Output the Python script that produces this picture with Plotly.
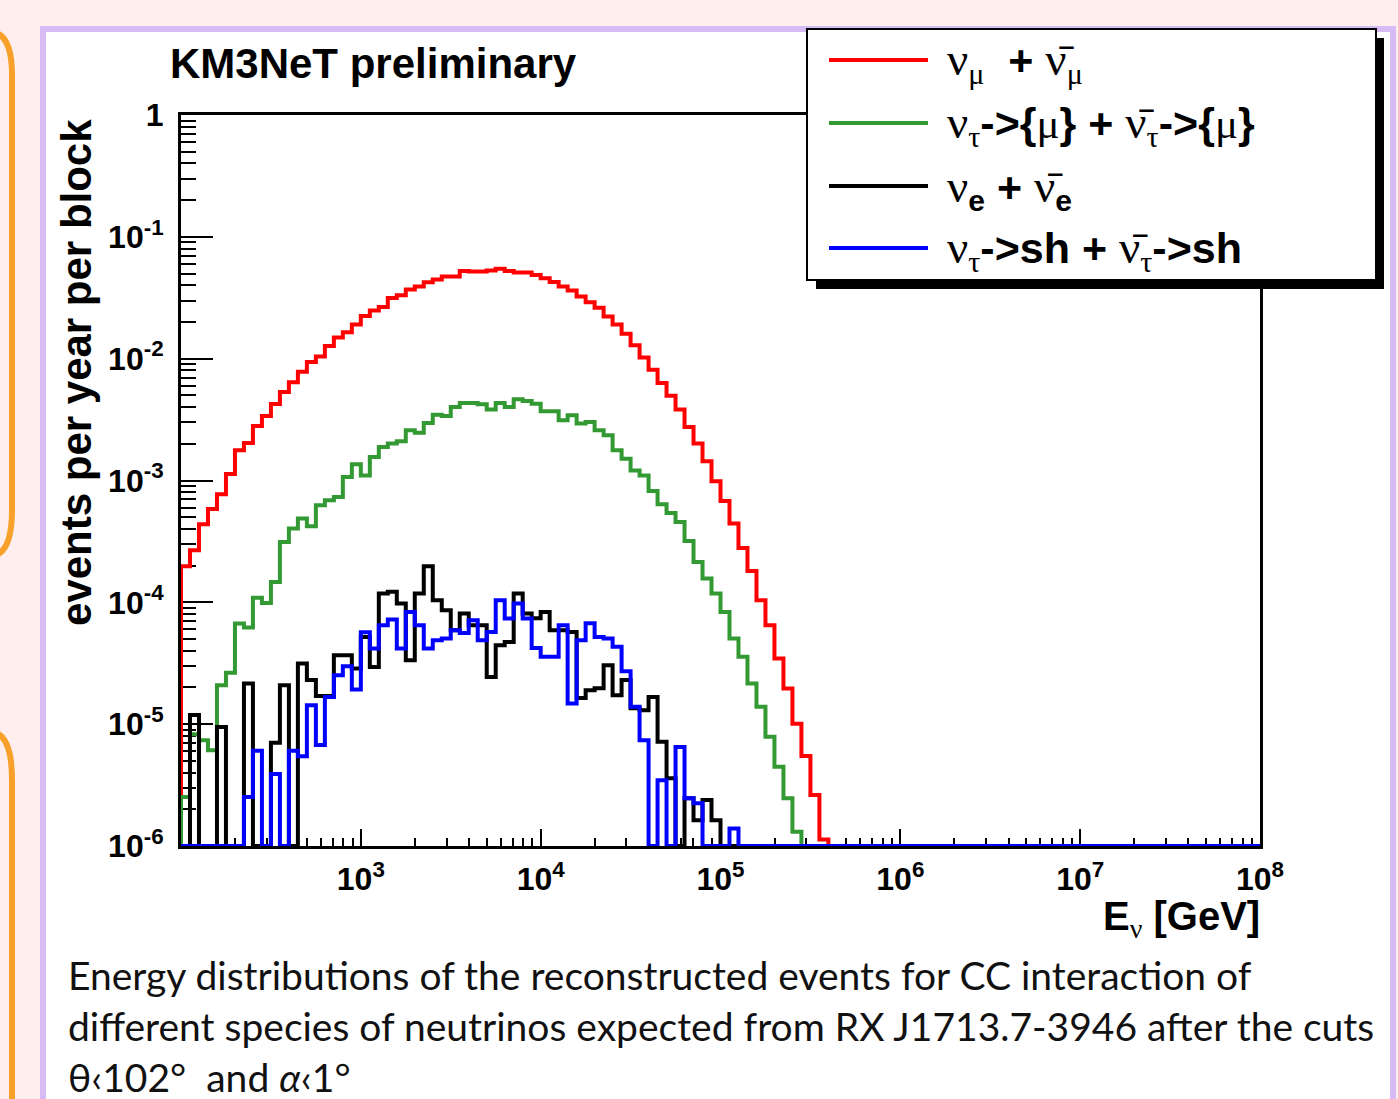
import numpy as np
import plotly.graph_objects as go

# ---------------- data ----------------
# histogram: 20 bins per decade, from 1e2 GeV to 1e8 GeV (120 bins)
LOG_E_MIN = 2.0
LOG_E_MAX = 8.0
BINS_PER_DECADE = 20

nu_mu = [
    1.98e-4, 2.67e-4, 4.37e-4, 5.84e-4, 7.70e-4, 1.13e-3, 1.77e-3, 2.03e-3, 2.80e-3, 3.38e-3,
    4.24e-3, 5.32e-3, 6.39e-3, 7.82e-3, 9.37e-3, 1.04e-2, 1.27e-2, 1.49e-2, 1.65e-2, 1.91e-2,
    2.24e-2, 2.48e-2, 2.65e-2, 3.14e-2, 3.31e-2, 3.70e-2, 3.92e-2, 4.23e-2, 4.47e-2, 4.73e-2,
    4.73e-2, 5.24e-2, 5.20e-2, 5.20e-2, 5.30e-2, 5.47e-2, 5.24e-2, 5.10e-2, 5.10e-2, 4.85e-2,
    4.58e-2, 4.25e-2, 3.92e-2, 3.63e-2, 3.24e-2, 2.91e-2, 2.62e-2, 2.22e-2, 1.91e-2, 1.60e-2,
    1.29e-2, 1.02e-2, 8.12e-3, 6.31e-3, 4.97e-3, 3.82e-3, 2.75e-3, 2.01e-3, 1.44e-3, 9.85e-4,
    6.79e-4, 4.43e-4, 2.79e-4, 1.81e-4, 1.04e-4, 6.49e-5, 3.46e-5, 1.96e-5, 1.01e-5, 5.47e-6,
    2.62e-6, 1.13e-6, 0, 0, 0, 0, 0, 0, 0, 0,
    0, 0, 0, 0, 0, 0, 0, 0, 0, 0,
    0, 0, 0, 0, 0, 0, 0, 0, 0, 0,
    0, 0, 0, 0, 0, 0, 0, 0, 0, 0,
    0, 0, 0, 0, 0, 0, 0, 0, 0, 0,
]

nu_tau_mu = [
    2.53e-6, 8.28e-6, 7.39e-6, 6.12e-6, 2.09e-5, 2.64e-5, 6.70e-5, 6.21e-5, 1.09e-4, 9.88e-5,
    1.47e-4, 3.13e-4, 4.03e-4, 4.87e-4, 4.21e-4, 6.26e-4, 6.88e-4, 7.32e-4, 1.07e-3, 1.36e-3,
    1.10e-3, 1.56e-3, 1.88e-3, 2.01e-3, 2.10e-3, 2.58e-3, 2.47e-3, 2.96e-3, 3.47e-3, 3.38e-3,
    4.01e-3, 4.32e-3, 4.32e-3, 4.22e-3, 3.82e-3, 4.32e-3, 4.01e-3, 4.64e-3, 4.49e-3, 4.27e-3,
    3.70e-3, 3.70e-3, 3.12e-3, 3.43e-3, 2.93e-3, 3.02e-3, 2.58e-3, 2.35e-3, 1.77e-3, 1.51e-3,
    1.21e-3, 1.10e-3, 8.20e-4, 6.38e-4, 5.41e-4, 4.57e-4, 3.19e-4, 2.14e-4, 1.57e-4, 1.18e-4,
    8.34e-5, 5.04e-5, 3.57e-5, 2.16e-5, 1.39e-5, 7.87e-6, 4.47e-6, 2.46e-6, 1.31e-6, 0,
    0, 0, 0, 0, 0, 0, 0, 0, 0, 0,
    0, 0, 0, 0, 0, 0, 0, 0, 0, 0,
    0, 0, 0, 0, 0, 0, 0, 0, 0, 0,
    0, 0, 0, 0, 0, 0, 0, 0, 0, 0,
    0, 0, 0, 0, 0, 0, 0, 0, 0, 0,
]

nu_e = [
    0, 1.19e-5, 0, 0, 9.5e-6, 0, 0, 2.16e-5, 0, 0,
    7.03e-6, 2.09e-5, 0, 3.15e-5, 2.30e-5, 1.70e-5, 1.70e-5, 3.68e-5, 3.68e-5, 2.86e-5,
    5.20e-5, 2.95e-5, 1.18e-4, 1.22e-4, 9.77e-5, 3.35e-5, 1.18e-4, 1.98e-4, 1.04e-4, 8.61e-5,
    5.90e-5, 8.09e-5, 6.49e-5, 6.49e-5, 2.44e-5, 4.45e-5, 4.73e-5, 1.18e-4, 8.09e-5, 7.41e-5,
    8.34e-5, 5.90e-5, 5.90e-5, 5.71e-5, 1.64e-5, 1.90e-5, 1.97e-5, 3.05e-5, 1.73e-5, 2.30e-5,
    1.35e-5, 1.30e-5, 1.67e-5, 7.16e-6, 3.59e-6, 0, 2.46e-6, 1.63e-6, 2.38e-6, 1.63e-6,
    0, 0, 0, 0, 0, 0, 0, 0, 0, 0,
    0, 0, 0, 0, 0, 0, 0, 0, 0, 0,
    0, 0, 0, 0, 0, 0, 0, 0, 0, 0,
    0, 0, 0, 0, 0, 0, 0, 0, 0, 0,
    0, 0, 0, 0, 0, 0, 0, 0, 0, 0,
    0, 0, 0, 0, 0, 0, 0, 0, 0, 0,
]

nu_tau_sh = [
    0, 0, 0, 0, 0, 0, 0, 2.53e-6, 6.04e-6, 0,
    3.89e-6, 0, 6.04e-6, 5.46e-6, 1.43e-5, 6.73e-6, 1.67e-5, 2.52e-5, 2.99e-5, 1.93e-5,
    5.69e-5, 4.18e-5, 6.49e-5, 7.23e-5, 4.18e-5, 8.34e-5, 6.49e-5, 4.18e-5, 4.89e-5, 5.05e-5,
    5.90e-5, 5.61e-5, 7.13e-5, 4.89e-5, 5.71e-5, 1.04e-4, 7.36e-5, 9.77e-5, 7.36e-5, 4.21e-5,
    3.57e-5, 3.57e-5, 6.49e-5, 1.48e-5, 4.89e-5, 6.75e-5, 5.20e-5, 5.05e-5, 4.31e-5, 2.72e-5,
    1.39e-5, 7.39e-6, 0, 3.47e-6, 0, 6.51e-6, 2.46e-6, 2.24e-6, 0, 0,
    0, 1.39e-6, 0, 0, 0, 0, 0, 0, 0, 0,
    0, 0, 0, 0, 0, 0, 0, 0, 0, 0,
    0, 0, 0, 0, 0, 0, 0, 0, 0, 0,
    0, 0, 0, 0, 0, 0, 0, 0, 0, 0,
    0, 0, 0, 0, 0, 0, 0, 0, 0, 0,
    0, 0, 0, 0, 0, 0, 0, 0, 0, 0,
]

x_tick_values = [1e3, 1e4, 1e5, 1e6, 1e7, 1e8]
x_tick_labels = ["10<sup>3</sup>", "10<sup>4</sup>", "10<sup>5</sup>",
                 "10<sup>6</sup>", "10<sup>7</sup>", "10<sup>8</sup>"]
y_tick_values = [1e-6, 1e-5, 1e-4, 1e-3, 1e-2, 1e-1, 1]
y_tick_labels = ["10<sup>-6</sup>", "10<sup>-5</sup>", "10<sup>-4</sup>",
                 "10<sup>-3</sup>", "10<sup>-2</sup>", "10<sup>-1</sup>", "1"]

title_text = "KM3NeT preliminary"
y_title_text = "events per year per block"
caption_lines = [
    "Energy distributions of the reconstructed events for CC interaction of",
    "different species of neutrinos expected from RX J1713.7-3946 after the cuts",
    "θ‹102°&nbsp;&nbsp;and <i>α</i>‹1°",
]

# ---------------- styling ----------------
W, H = 1398, 1099
L, R, T, B = 181, 1260, 115, 846          # plot area in pixels
PAGE_BG = "#FEEEEE"
LAVENDER = "#D7BBF5"
ORANGE = "#F7A12B"
SANS = "Liberation Sans"
SERIF_STYLE = "font-family:Liberation Serif;font-weight:normal"
YMIN_LOG, YMAX_LOG = -6, 0


def xp(px):
    return (px - L) / (R - L)


def yp(py):
    return (B - py) / (B - T)


def greek(ch, extra=""):
    return f'<span style="{SERIF_STYLE}{extra}">{ch}</span>'


NU = greek("ν", ";font-size:47px")
NUBAR = greek("ν\u0304", ";font-size:47px")
legend_labels = [
    f"{NU}<sub>{greek('μ')}</sub>&nbsp;&nbsp;+ {NUBAR}<sub>{greek('μ')}</sub>",
    f"{NU}<sub>{greek('τ')}</sub>->{{{greek('μ')}}} + {NUBAR}<sub>{greek('τ')}</sub>->{{{greek('μ')}}}",
    f"{NU}<sub>e</sub> + {NUBAR}<sub>e</sub>",
    f"{NU}<sub>{greek('τ')}</sub>->sh + {NUBAR}<sub>{greek('τ')}</sub>->sh",
]
series = [nu_mu, nu_tau_mu, nu_e, nu_tau_sh]
colors = ["#FF0000", "#339933", "#000000", "#0000FF"]

edges = np.logspace(LOG_E_MIN, LOG_E_MAX, int((LOG_E_MAX - LOG_E_MIN) * BINS_PER_DECADE) + 1)
ymin = 10.0 ** YMIN_LOG

fig = go.Figure()
for vals, col, lab in zip(series, colors, legend_labels):
    v = np.maximum(np.asarray(vals, dtype=float), ymin)
    xs = np.concatenate([[edges[0]], edges])
    ys = np.concatenate([[ymin], v, [v[-1]]])
    fig.add_trace(go.Scatter(x=xs, y=ys, mode="lines", line=dict(color=col, width=4, shape="hv"),
                             name=lab, showlegend=False, hoverinfo="skip"))

x_minor = [k * 10.0 ** d for d in range(2, 8) for k in range(2, 10)]
y_minor = [k * 10.0 ** d for d in range(-6, 0) for k in range(2, 10)]

tickfont = dict(family=SANS, size=32, color="black", weight="bold")
fig.update_xaxes(type="log", range=[LOG_E_MIN, LOG_E_MAX], showgrid=False, zeroline=False,
                 showline=True, linecolor="black", linewidth=3, mirror=True,
                 ticks="inside", ticklen=17, tickwidth=2, tickcolor="black",
                 tickmode="array", tickvals=x_tick_values, ticktext=x_tick_labels,
                 tickfont=tickfont, ticklabelstandoff=3, layer="below traces",
                 minor=dict(tickmode="array", tickvals=x_minor, ticks="inside", ticklen=8,
                            tickwidth=2, tickcolor="black", showgrid=False))
fig.update_yaxes(type="log", range=[YMIN_LOG, YMAX_LOG], showgrid=False, zeroline=False,
                 showline=True, linecolor="black", linewidth=3, mirror=True,
                 ticks="inside", ticklen=32, tickwidth=2, tickcolor="black",
                 tickmode="array", tickvals=y_tick_values, ticktext=y_tick_labels,
                 tickfont=tickfont, ticklabelstandoff=8, layer="below traces",
                 minor=dict(tickmode="array", tickvals=y_minor, ticks="inside", ticklen=15,
                            tickwidth=2, tickcolor="black", showgrid=False))

shapes = []
# white panel with lavender frame
shapes.append(dict(type="rect", xref="paper", yref="paper", layer="below",
                   x0=xp(43), x1=xp(1393), y0=yp(1130), y1=yp(29),
                   line=dict(color=LAVENDER, width=6), fillcolor="white"))


def path(cmds):
    return " ".join(cmds)


# orange rounded boxes at the left edge
top_box = path([f"M {xp(-60)},{yp(32)}", f"L {xp(-10)},{yp(32)}",
                f"Q {xp(12)},{yp(32)} {xp(12)},{yp(75)}",
                f"L {xp(12)},{yp(510)}",
                f"Q {xp(12)},{yp(556)} {xp(-10)},{yp(556)}", f"L {xp(-60)},{yp(556)}"])
bot_box = path([f"M {xp(-60)},{yp(732)}", f"L {xp(-10)},{yp(732)}",
                f"Q {xp(12)},{yp(732)} {xp(12)},{yp(780)}",
                f"L {xp(12)},{yp(1140)}"])
for p in (top_box, bot_box):
    shapes.append(dict(type="path", xref="paper", yref="paper", layer="below", path=p,
                       line=dict(color=ORANGE, width=6)))

# legend box with shadow
shapes.append(dict(type="rect", xref="paper", yref="paper", layer="above",
                   x0=xp(816), x1=xp(1384), y0=yp(289), y1=yp(38),
                   line=dict(width=0), fillcolor="black"))
shapes.append(dict(type="rect", xref="paper", yref="paper", layer="above",
                   x0=xp(807), x1=xp(1376), y0=yp(280), y1=yp(29),
                   line=dict(color="black", width=2), fillcolor="white"))
legend_rows = [60, 123, 186, 248]
annotations = []
for row_y, col, lab in zip(legend_rows, colors, legend_labels):
    shapes.append(dict(type="line", xref="paper", yref="paper", layer="above",
                       x0=xp(829), x1=xp(928), y0=yp(row_y), y1=yp(row_y),
                       line=dict(color=col, width=4)))
    annotations.append(dict(xref="paper", yref="paper", x=xp(945), y=yp(row_y + 2),
                            xanchor="left", yanchor="middle", showarrow=False, text=lab,
                            font=dict(family=SANS, size=43, color="black", weight="bold")))

annotations.append(dict(xref="paper", yref="paper", x=xp(168), y=yp(63), xanchor="left",
                        yanchor="middle", showarrow=False, text=title_text,
                        font=dict(family=SANS, size=42, color="black", weight="bold")))
annotations.append(dict(xref="paper", yref="paper", x=xp(76), y=yp(373), xanchor="center",
                        yanchor="middle", showarrow=False, text=y_title_text, textangle=-90,
                        font=dict(family=SANS, size=42, color="black", weight="bold")))
annotations.append(dict(xref="paper", yref="paper", x=xp(1262), y=yp(919), xanchor="right",
                        yanchor="middle", showarrow=False,
                        text=f"E<sub>{greek('ν')}</sub> [GeV]",
                        font=dict(family=SANS, size=40, color="black", weight="bold")))
for i, line in enumerate(caption_lines):
    annotations.append(dict(xref="paper", yref="paper", x=xp(66), y=yp(975 + 51 * i),
                            xanchor="left", yanchor="middle", showarrow=False, text=line,
                            font=dict(family="Lato", size=39, color="#111111")))

fig.update_layout(width=W, height=H, margin=dict(l=L, r=W - R, t=T, b=H - B, autoexpand=False),
                  paper_bgcolor=PAGE_BG, plot_bgcolor="white", showlegend=False,
                  shapes=shapes, annotations=annotations)

fig.write_html("out.html")
